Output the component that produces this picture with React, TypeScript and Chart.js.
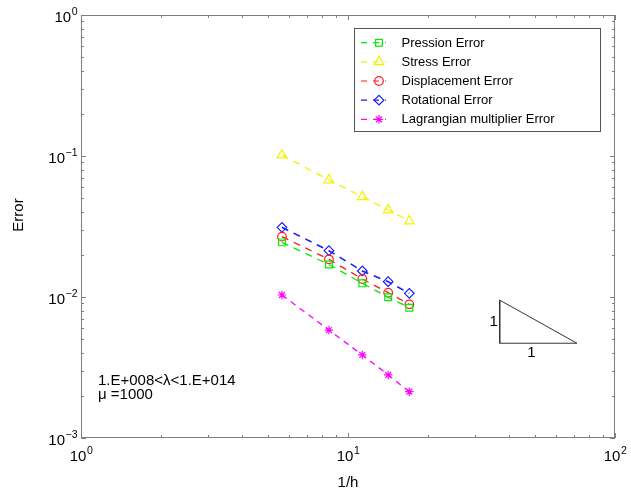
import React, { useEffect, useRef } from 'react';
import { Chart, registerables } from 'chart.js';
import { drawPoint } from 'chart.js/helpers';

Chart.register(...registerables);

// ---------- data ----------
const invH = [5.657, 8.485, 11.314, 14.142, 16.971];
const pressionError = [0.0244, 0.017, 0.0125, 0.00995, 0.0084];
const stressError = [0.1016, 0.0676, 0.0514, 0.0414, 0.0346];
const displacementError = [0.0268, 0.0185, 0.01342, 0.01073, 0.00887];
const rotationalError = [0.0312, 0.0213, 0.0153, 0.01284, 0.01062];
const lagrangianError = [0.01033, 0.00583, 0.00388, 0.0028, 0.00213];

const seriesLabels = [
  'Pression Error',
  'Stress Error',
  'Displacement Error',
  'Rotational Error',
  'Lagrangian multiplier Error',
];
const seriesValues = [pressionError, stressError, displacementError, rotationalError, lagrangianError];
const seriesColors = ['#00ee00', '#f2f200', '#ff1a1a', '#1a1aff', '#ff00ff'];
const seriesMarkers = ['rect', 'triangle', 'circle', 'rectRot', 'star'];
const seriesMarkerRadius = [4.8, 5.6, 4.3, 4.8, 4.2];

const xTickValues = [1, 10, 100];
const xTickExponents = ['0', '1', '2'];
const yTickValues = [0.001, 0.01, 0.1, 1];
const yTickExponents = ['\u22123', '\u22122', '\u22121', '0'];

const slopeTriangleX = [37, 37, 72, 37];
const slopeTriangleY = [0.0095, 0.0047, 0.0047, 0.0095];
const slopeLabels = ['1', '1'];

const annotationLines = ['1.E+008<\u03bb<1.E+014', '\u03bc =1000'];
const xTitle = '1/h';
const yTitle = 'Error';

const FONT = '"Liberation Sans", Arial, Helvetica, sans-serif';
const AXIS_COLOR = '#808080';

const decorPlugin = {
  id: 'decor',
  afterDatasetsDraw(chart: any) {
    const { ctx, chartArea, scales } = chart;
    const { left, right, top, bottom } = chartArea;
    const xs = scales.x;
    const ys = scales.y;
    ctx.save();

    // axes box
    ctx.strokeStyle = AXIS_COLOR;
    ctx.lineWidth = 1;
    ctx.strokeRect(left + 0.5, top + 0.5, right - left - 1, bottom - top - 1);

    // inward ticks (major + minor)
    const major = 5;
    const minor = 3;
    ctx.beginPath();
    const xMinD = Math.round(Math.log10(xs.min));
    const xMaxD = Math.round(Math.log10(xs.max));
    for (let d = xMinD; d <= xMaxD; d++) {
      for (let k = 1; k <= 9; k++) {
        if (d === xMaxD && k > 1) break;
        const v = k * Math.pow(10, d);
        const px = Math.round(xs.getPixelForValue(v)) + 0.5;
        const len = k === 1 ? major : minor;
        ctx.moveTo(px, bottom);
        ctx.lineTo(px, bottom - len);
        ctx.moveTo(px, top);
        ctx.lineTo(px, top + len);
      }
    }
    const yMinD = Math.round(Math.log10(ys.min));
    const yMaxD = Math.round(Math.log10(ys.max));
    for (let d = yMinD; d <= yMaxD; d++) {
      for (let k = 1; k <= 9; k++) {
        if (d === yMaxD && k > 1) break;
        const v = k * Math.pow(10, d);
        const py = Math.round(ys.getPixelForValue(v)) + 0.5;
        const len = k === 1 ? major : minor;
        ctx.moveTo(left, py);
        ctx.lineTo(left + len, py);
        ctx.moveTo(right, py);
        ctx.lineTo(right - len, py);
      }
    }
    ctx.stroke();

    // tick labels
    ctx.fillStyle = '#000';
    ctx.textBaseline = 'alphabetic';
    const baseFont = `15px ${FONT}`;
    const expFont = `10.5px ${FONT}`;
    xTickValues.forEach((v, i) => {
      const px = xs.getPixelForValue(v);
      ctx.font = baseFont;
      const w1 = ctx.measureText('10').width;
      ctx.font = expFont;
      const w2 = ctx.measureText(xTickExponents[i]).width;
      const start = px - (w1 + w2) / 2;
      ctx.font = baseFont;
      ctx.textAlign = 'left';
      ctx.fillText('10', start, 461);
      ctx.font = expFont;
      ctx.fillText(xTickExponents[i], start + w1 + 0.5, 453.5);
    });
    yTickValues.forEach((v, i) => {
      const py = ys.getPixelForValue(v);
      ctx.font = expFont;
      const w2 = ctx.measureText(yTickExponents[i]).width;
      const rightEdge = 77.5;
      ctx.textAlign = 'right';
      ctx.fillText(yTickExponents[i], rightEdge, py - 0.5);
      ctx.font = baseFont;
      ctx.fillText('10', rightEdge - w2 - 0.5, py + 6.5);
    });

    // axis titles
    ctx.font = baseFont;
    ctx.textAlign = 'center';
    ctx.fillText(xTitle, (left + right) / 2, 487);
    ctx.save();
    ctx.translate(19, 215);
    ctx.rotate(-Math.PI / 2);
    ctx.textBaseline = 'middle';
    ctx.fillText(yTitle, 0, 0);
    ctx.restore();

    // annotation text
    ctx.textAlign = 'left';
    ctx.textBaseline = 'middle';
    ctx.font = baseFont;
    annotationLines.forEach((t, i) => {
      ctx.fillText(t, 98, 381 + i * 13.5);
    });

    // slope triangle labels
    const tLeft = xs.getPixelForValue(slopeTriangleX[0]);
    const tRight = xs.getPixelForValue(slopeTriangleX[2]);
    const tTop = ys.getPixelForValue(slopeTriangleY[0]);
    const tBot = ys.getPixelForValue(slopeTriangleY[1]);
    ctx.textAlign = 'center';
    ctx.fillText(slopeLabels[0], tLeft - 6, (tTop + tBot) / 2);
    ctx.fillText(slopeLabels[1], (tLeft + tRight) / 2 - 7, tBot + 10);

    // legend
    const lx = 354.5, ly = 28.5, lw = 246, lh = 103;
    ctx.fillStyle = '#fff';
    ctx.fillRect(lx, ly, lw, lh);
    ctx.strokeStyle = '#555';
    ctx.lineWidth = 1;
    ctx.strokeRect(lx, ly, lw, lh);
    seriesLabels.forEach((label, i) => {
      const ds = chart.data.datasets[i];
      const cy = 42.7 + i * 19.15;
      ctx.strokeStyle = ds.borderColor;
      ctx.lineWidth = 1.2;
      ctx.setLineDash([6, 6]);
      ctx.beginPath();
      ctx.moveTo(361, cy);
      ctx.lineTo(386, cy);
      ctx.stroke();
      ctx.setLineDash([]);
      ctx.lineWidth = ds.pointBorderWidth;
      ctx.fillStyle = 'rgba(0,0,0,0)';
      ctx.strokeStyle = ds.pointBorderColor;
      drawPoint(ctx, {
        pointStyle: ds.pointStyle,
        radius: ds.pointRadius,
        rotation: 0,
        borderWidth: ds.pointBorderWidth,
      } as any, 379, cy);
      ctx.fillStyle = '#000';
      ctx.font = `13px ${FONT}`;
      ctx.textAlign = 'left';
      ctx.textBaseline = 'middle';
      ctx.fillText(label, 401.5, cy + 0.5);
    });

    ctx.restore();
  },
};

export default function App() {
  const ref = useRef<HTMLCanvasElement>(null);
  useEffect(() => {
    document.body.style.margin = '0';
    const canvas = ref.current!;
    const datasets: any[] = seriesLabels.map((label, i) => ({
      label,
      data: invH.map((x, j) => ({ x, y: seriesValues[i][j] })),
      borderColor: seriesColors[i],
      backgroundColor: 'rgba(0,0,0,0)',
      borderWidth: i === 3 ? 1.6 : 1.3,
      borderDash: i === 4 ? [6, 5] : [7, 6],
      pointStyle: seriesMarkers[i],
      pointRadius: seriesMarkerRadius[i],
      pointBorderWidth: 1.2,
      pointBorderColor: seriesColors[i],
      pointBackgroundColor: 'rgba(0,0,0,0)',
      fill: false,
      tension: 0,
    }));
    datasets.push({
      label: 'slope',
      data: slopeTriangleX.map((x, j) => ({ x, y: slopeTriangleY[j] })),
      borderColor: '#333',
      borderWidth: 1,
      pointRadius: 0,
      fill: false,
      tension: 0,
    });
    const chart = new Chart(canvas, {
      type: 'line',
      data: { datasets },
      options: {
        animation: false,
        responsive: false,
        devicePixelRatio: 1,
        layout: { padding: { left: 81, top: 15, right: 16, bottom: 53 } },
        scales: {
          x: { type: 'logarithmic', min: 1, max: 100, display: false },
          y: { type: 'logarithmic', min: 0.001, max: 1, display: false },
        },
        plugins: { legend: { display: false }, tooltip: { enabled: false } },
      } as any,
      plugins: [decorPlugin],
    });
    return () => chart.destroy();
  }, []);
  return (
    <div style={{ width: 631, height: 491, background: '#fff' }}>
      <canvas ref={ref} width={631} height={491} style={{ display: 'block' }} />
    </div>
  );
}
